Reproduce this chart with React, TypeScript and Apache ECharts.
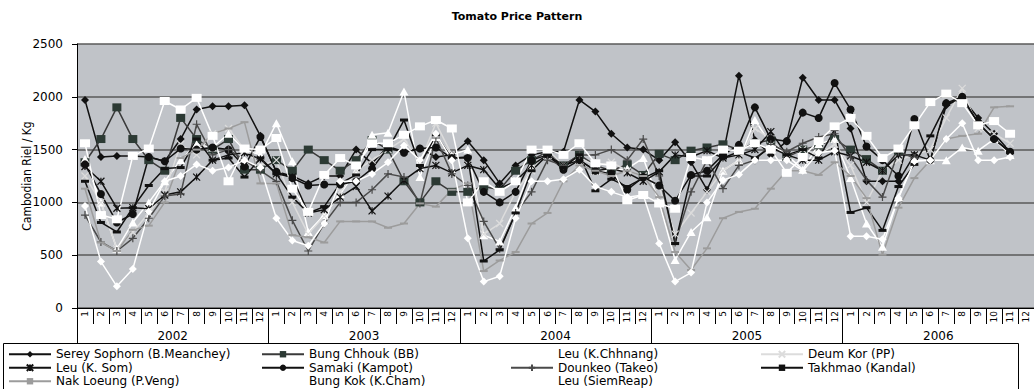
import React, { useEffect, useRef } from "react";
import * as echarts from "echarts";

const years = ["2002", "2003", "2004", "2005", "2006"];
const months = ["1", "2", "3", "4", "5", "6", "7", "8", "9", "10", "11", "12"];
const categories = years.flatMap((y) => months.map((m) => `${y}-${m}`));
const yTicks = { min: 0, max: 2500, interval: 500 };

const sereySophorn = [
  1970, 1430, 1440, 1440, 1430, 1390, 1600, 1880, 1910, 1910, 1920, 1630,
  1290, 1250, 1180, 1250, 1250, 1500, 1370, 1530, 1480, 1510, 1430, 1450,
  1580, 1400, 1180, 1350, 1450, 1480, 1480, 1970, 1860, 1650, 1520, 1500,
  1400, 1570, 1380, 1120, 1450, 2200, 1590, 1450, 1580, 2180, 1970, 1970,
  1700, 1200, 1200, 1200, 1450, 1400, 1920, 1990, 1800, 1650, 1480, null,
];
const bungChhouk = [
  1380, 1600, 1900, 1600, 1400, 1300, 1800, 1600, 1500, 1600, 1310, 1310,
  1400, 1300, 1500, 1400, 1300, 1400, 1590, 1500, 1200, 1000, 1200, 1100,
  1100, 1150, 1120, 1300, 1400, 1480, 1350, 1450, 1350, 1300, 1360, 1260,
  1460, 1400, 1490, 1520, 1550, 1500, 1560, 1590, 1430, 1500, 1540, 1600,
  1500, 1410, 1300, 1490, null, null, null, null, null, null, null, null,
];
const leuKChhnang = [
  1410, 1000, 560, 810, 1000, 1200, 1400, 1550, 1520, 1650, 1500, 1450,
  1750, 1390, 720, 880, 1080, 1300, 1640, 1660, 2050, 1240, 1620, 1450,
  1500, 690, 630, 950, 1350, 1450, 1350, 1400, 1300, 1300, 1320, 1420,
  1000, 455, 720, 860, 1300, 1400, 1780, 1550, 1450, 1310, 1550, 1600,
  1230, 800, 580, 1050, 1400, 1400, 1400, 1520, 1490, 1600, 1450, null,
];
const deumKor = [
  1250, 1000, 560, 720, 900, 1100, 1550, 1450, 1650, 1700, 1500, 1350,
  1400, 1000, 700, 870, 1100, 1300, 1400, 1500, 1600, 1380, 1750, 1450,
  1400, 700, 800, 1100, 1300, 1500, 1350, 1420, 1350, 1380, 1300, 1250,
  1150, 700, 900, 1100, 1300, 1400, 1700, 1600, 1450, 1500, 1450, 1550,
  1350, 1000, 1300, 1400, 1450, 1500, 1800, 2080, 1700, 1650, 1560, null,
];
const leuKSom = [
  1340, 1200, 945, 950, 940, 1070, 1100, 1240, 1400, 1450, 1470, 1410,
  1270, 1240, 900, 930, 1050, 1150, 920, 1060, 1210, 1320, 1350, 1280,
  1350, 1310, 1130, 1200, 1350, 1450, 1350, 1400, 1300, 1320, 1280, 1200,
  1290, 1450, 1430, 1490, 1420, 1450, 1500, 1670, 1450, 1400, 1400, 1480,
  1440, 1380, 1300, 1450, 1450, null, null, null, null, null, null, null,
];
const samaki = [
  1360, 1080, 810, 890, 1430, 1390, 1510, 1500, 1520, 1500, 1340, 1620,
  1290, 1230, 1160, 1170, 1170, 1200, 1320, 1520, 1470, 1510, 1520, 1420,
  1420, 1100, 1000, 1100, 1400, 1450, 1310, 1400, 1300, 1270, 1120, 1240,
  1160, 1015, 1260, 1300, 1450, 1545, 1900, 1600, 1580, 1850, 1800, 2130,
  1880, 1530, 1400, 1250, 1790, 1400, 1940, 2000, 1750, 1600, 1480, null,
];
const dounkeo = [
  880, 625, 540, 660, 850, 1060, 1080, 1740, 1450, 1500, 1400, 1300,
  1200, 830, 540, 800, 1000, 1000, 1120, 1270, 1240, 990, 1610, 1270,
  1160, 820, 560, 900, 1100, 1400, 1350, 1450, 1450, 1500, 1400, 1600,
  1250, 620, 1100, 1400, 1130, 1350, 1400, 1550, 1480, 1560, 1620, 1650,
  1430, 1210, 1050, 1480, 1420, null, null, null, null, null, null, null,
];
const takhmao = [
  1200, 810, 720, 950, 1160, 1320, 1330, 1600, 1400, 1420, 1240, 1420,
  1270, 1050, 900, 960, 1180, 1260, 1500, 1500, 1780, 1350, 1640, 1420,
  1430, 445, 550, 900, 1300, 1450, 1330, 1450, 1110, 1220, 1150, 1230,
  1300, 610, 1250, 1250, 1420, 1480, 1420, 1520, 1450, 1500, 1420, 1690,
  905, 950, 735, 1150, 1360, 1630, 1930, 1990, 1750, 1600, 1470, null,
];
const nakLoeung = [
  1130, 620, 540, 740, 780, 1000, 1420, 1500, 1650, 1700, 1760, 1180,
  1180, 690, 670, 620, 820, 820, 820, 760, 800, 990, 960, 1120,
  1180, 350, 450, 530, 800, 900, 1200, 1350, 1300, 1250, 1300, 1250,
  1050, 530, 360, 565, 850, 910, 940, 1130, 1300, 1300, 1260, 1380,
  1250, 1040, 505, 950, 1230, 1400, 1600, 1630, 1650, 1900, 1910, null,
];
const bungKok = [
  1560, 880, 840, 1440, 1510, 1960, 1880, 1990, 1630, 1200, 1510, 1500,
  1610, 1130, 910, 1260, 1420, 1350, 1560, 1560, 1640, 1720, 1780, 1700,
  1000, 1200, 1100, 1200, 1500, 1500, 1450, 1560, 1370, 1350, 1020, 1070,
  990, 940, 1430, 1400, 1500, 1490, 1560, 1500, 1280, 1430, 1580, 1720,
  1800, 1630, 1420, 1510, 1730, 1950, 2030, 1940, 1730, 1770, 1650, null,
];
const leuSiemReap = [
  965, 440, 205, 370, 915, 1200, 1250, 1360, 1300, 1330, 1400, 1330,
  850, 640, 590, 800, 1200, 1200, 1270, 1380, 1540, 1400, 1650, 1400,
  660, 250, 300, 850, 1200, 1200, 1220, 1310, 1150, 1100, 1050, 1070,
  610, 250, 335, 1000, 1210, 1265, 1400, 1400, 1400, 1300, 1470, 1490,
  680, 680, 650, 1040, 1390, 1400, 1600, 1750, 1400, 1400, 1430, null,
];

const FONT = '"DejaVu Sans", Arial, sans-serif';
const X_PATH = "path://M0,0L10,10M10,0L0,10";
const STAR_PATH = "path://M0,0L10,10M10,0L0,10M5,0L5,10";
const PLUS_PATH = "path://M5,0L5,10M0,5L10,5";

type Spec = {
  name: string;
  data: (number | null)[];
  line: string;
  fill: string;
  stroke?: string;
  symbol: string;
  size: number | number[];
  bw?: number;
};

const specs: Spec[] = [
  { name: "Serey Sophorn (B.Meanchey)", data: sereySophorn, line: "#111", fill: "#111", symbol: "diamond", size: [8, 8] },
  { name: "Bung Chhouk (BB)", data: bungChhouk, line: "#3a3a3a", fill: "#2c3a34", symbol: "rect", size: [9, 8] },
  { name: "Leu (K.Chhnang)", data: leuKChhnang, line: "#ffffff", fill: "#ffffff", symbol: "triangle", size: [9, 8] },
  { name: "Deum Kor (PP)", data: deumKor, line: "#dcdcdc", fill: "#dcdcdc", stroke: "#dcdcdc", symbol: X_PATH, size: [7, 7], bw: 1.2 },
  { name: "Leu (K. Som)", data: leuKSom, line: "#111", fill: "#111", stroke: "#111", symbol: STAR_PATH, size: [7, 7], bw: 1.2 },
  { name: "Samaki (Kampot)", data: samaki, line: "#111", fill: "#111", symbol: "circle", size: 8 },
  { name: "Dounkeo (Takeo)", data: dounkeo, line: "#4a4a4a", fill: "#4a4a4a", stroke: "#4a4a4a", symbol: PLUS_PATH, size: [8, 8], bw: 1.2 },
  { name: "Takhmao (Kandal)", data: takhmao, line: "#111", fill: "#111", symbol: "rect", size: [8, 3] },
  { name: "Nak Loeung (P.Veng)", data: nakLoeung, line: "#9c9c9c", fill: "#9c9c9c", symbol: "rect", size: [8, 2] },
  { name: "Bung Kok (K.Cham)", data: bungKok, line: "#ffffff", fill: "#ffffff", symbol: "rect", size: [10, 8] },
  { name: "Leu (SiemReap)", data: leuSiemReap, line: "#ffffff", fill: "#ffffff", symbol: "diamond", size: [8, 8] },
];

const legendColumns = [
  { left: 8, names: [specs[0].name, specs[4].name, specs[8].name] },
  { left: 261, names: [specs[1].name, specs[5].name, specs[9].name] },
  { left: 510, names: [specs[2].name, specs[6].name, specs[10].name] },
  { left: 760, names: [specs[3].name, specs[7].name] },
];

export default function App() {
  const ref = useRef<HTMLDivElement>(null);
  useEffect(() => {
    document.body.style.margin = "0";
    if (!ref.current) return;
    const chart = echarts.init(ref.current, undefined, { renderer: "svg" });
    chart.setOption({
      animation: false,
      backgroundColor: "#ffffff",
      title: {
        text: "Tomato Price Pattern",
        left: "center",
        top: 6,
        textStyle: { fontFamily: FONT, fontSize: 11, fontWeight: "bold", color: "#000" },
      },
      grid: {
        left: 77,
        top: 44,
        width: 959,
        height: 264,
        show: true,
        backgroundColor: "#c0c3c8",
        borderWidth: 0,
      },
      legend: legendColumns.map((c) => ({
        data: c.names,
        orient: "vertical",
        left: c.left,
        top: 348,
        height: 90,
        width: 260,
        padding: 0,
        itemWidth: 42,
        itemHeight: 8,
        itemGap: 1,
        selectedMode: false,
        textStyle: { fontFamily: FONT, fontSize: 12, color: "#000", lineHeight: 12.5 },
      })),
      xAxis: [
        {
          type: "category",
          data: categories,
          boundaryGap: true,
          offset: 0,
          position: "bottom",
          axisLine: { show: true, lineStyle: { color: "#000", width: 1 } },
          axisTick: { show: true, interval: 0, length: 16, lineStyle: { color: "#000" } },
          axisLabel: {
            interval: 0,
            rotate: 90,
            margin: 3,
            fontFamily: FONT,
            fontSize: 9,
            color: "#000",
            formatter: (v: string) => v.split("-")[1],
          },
          splitLine: { show: false },
        },
        {
          type: "category",
          data: years,
          boundaryGap: true,
          offset: 0,
          position: "bottom",
          axisLine: { show: false },
          axisTick: { show: true, interval: 0, length: 36, lineStyle: { color: "#000" } },
          axisLabel: { interval: 0, margin: 22, fontFamily: FONT, fontSize: 12, color: "#000" },
          splitLine: { show: false },
        },
      ],
      yAxis: {
        type: "value",
        min: yTicks.min,
        max: yTicks.max,
        interval: yTicks.interval,
        name: "Cambodian Riel / Kg",
        nameLocation: "middle",
        nameGap: 44,
        nameMoveOverlap: false,
        nameTextStyle: {
          fontFamily: '"Liberation Sans Narrow", "DejaVu Sans Condensed", Arial, sans-serif',
          fontSize: 12,
          color: "#000",
        },
        axisLine: { show: true, lineStyle: { color: "#000", width: 1 } },
        axisTick: { show: true, length: 5, lineStyle: { color: "#000" } },
        axisLabel: {
          fontFamily: FONT,
          fontSize: 12,
          color: "#000",
          margin: 14,
          formatter: (v: number) => String(v),
        },
        splitLine: { show: true, lineStyle: { color: "#5a5a5a", width: 1.6 } },
      },
      graphic: [
        {
          type: "rect",
          z: -1,
          shape: { x: 3.5, y: 343.5, width: 1015, height: 60 },
          style: { fill: "none", stroke: "#000", lineWidth: 1 },
        },
      ],
      series: specs.map((s) => ({
        name: s.name,
        type: "line",
        xAxisIndex: 0,
        data: s.data,
        symbol: s.symbol,
        symbolSize: s.size,
        showSymbol: true,
        connectNulls: false,
        lineStyle: { color: s.line, width: 1.5 },
        itemStyle: {
          color: s.fill,
          borderColor: s.stroke || s.fill,
          borderWidth: s.bw ?? 0,
        },
        emphasis: { disabled: true },
      })),
    });
    return () => chart.dispose();
  }, []);
  return <div ref={ref} style={{ width: 1034, height: 389 }} />;
}
